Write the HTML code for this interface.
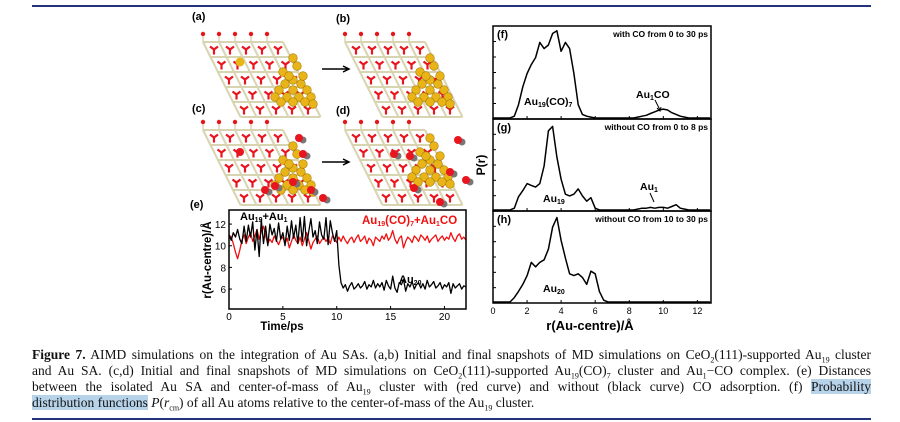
<!DOCTYPE html>
<html><head><meta charset="utf-8"><style>
body{margin:0;background:#fff;width:900px;height:422px;overflow:hidden;position:relative;font-family:"Liberation Sans",sans-serif}
.cap{position:absolute;left:32px;top:347px;width:839px;font-family:"Liberation Serif",serif;font-size:13.5px;line-height:16px;color:#111}
.cap div{text-align:justify;text-align-last:justify;white-space:nowrap;height:16px}
.cap div.last{text-align-last:left}
.cap sub{font-size:8px;line-height:0}
.hl{background:#b7d3ea}
</style></head><body>
<div style="position:absolute;left:32px;top:5px;width:839px;height:2px;background:#23327a"></div>
<div style="position:absolute;left:32px;top:418px;width:839px;height:2px;background:#23327a"></div>
<svg id="fig" width="900" height="345" style="position:absolute;left:0;top:0" font-family="Liberation Sans, sans-serif"></svg>
<div class="cap">
<div><b>Figure 7.</b> AIMD simulations on the integration of Au SAs. (a,b) Initial and final snapshots of MD simulations on CeO<sub>2</sub>(111)-supported Au<sub>19</sub> cluster</div>
<div>and Au SA. (c,d) Initial and final snapshots of MD simulations on CeO<sub>2</sub>(111)-supported Au<sub>19</sub>(CO)<sub>7</sub> cluster and Au<sub>1</sub>−CO complex. (e) Distances</div>
<div>between the isolated Au SA and center-of-mass of Au<sub>19</sub> cluster with (red curve) and without (black curve) CO adsorption. (f) <span class="hl">Probability</span></div>
<div class="last"><span class="hl">distribution functions</span> <i>P</i>(<i>r</i><sub>cm</sub>) of all Au atoms relative to the center-of-mass of the Au<sub>19</sub> cluster.</div>
</div>
<script>
// panel (e) data: time step 0.2 ps
const blackSeries=[11.0,10.5,11.2,10.8,11.5,10.6,10.2,11.8,10.4,11.9,
10.8,12.2,9.6,11.5,9.0,12.4,10.2,11.8,10.0,12.0,
11.0,11.6,10.4,12.1,10.6,11.2,10.0,11.8,10.5,12.3,
10.7,11.9,10.2,12.6,10.4,12.7,10.0,11.3,12.5,10.8,
11.4,10.2,12.2,11.0,10.6,12.6,10.1,12.3,11.2,10.4,
11.4,8.2,6.6,6.1,6.4,5.8,6.3,6.6,6.0,6.2,
6.5,6.1,6.3,6.7,6.0,6.4,6.2,6.8,6.1,6.5,
6.2,6.6,5.9,6.8,6.3,6.0,7.2,6.1,5.7,6.6,
6.4,6.9,5.8,6.5,6.2,6.7,6.0,6.4,6.6,6.1,
6.5,6.0,6.8,6.2,6.4,6.7,6.1,6.3,6.6,6.0,
6.4,6.2,6.6,5.6,6.5,6.1,6.3,6.5,6.0,6.3,6.2];
const redSeries=[11.0,10.8,10.2,9.4,8.8,9.6,10.5,11.0,10.2,10.8,
11.2,10.4,10.9,11.5,10.6,11.3,11.8,10.9,10.2,10.6,
10.3,10.9,10.5,10.1,10.6,10.8,10.2,10.7,9.8,10.4,
11.0,10.5,10.2,10.8,10.0,10.6,11.2,10.5,9.7,10.3,
10.6,10.9,10.2,10.5,10.8,10.4,10.7,10.2,10.9,10.6,
10.3,10.8,10.4,10.9,10.5,10.2,10.6,10.8,10.3,10.7,
11.0,10.4,10.6,10.9,10.2,10.7,10.5,10.0,10.8,10.6,
10.4,10.9,10.6,11.1,10.5,10.8,11.4,10.6,10.2,10.7,
10.9,9.8,10.4,10.8,10.6,10.3,10.9,10.7,10.4,11.0,
10.8,10.5,10.9,10.3,10.6,10.8,11.0,10.4,10.7,10.9,
10.5,10.8,10.6,11.2,10.7,10.4,10.9,11.1,10.6,10.8,10.5];
const eXTicks=[0,5,10,15,20];
const eYTicks=[6,8,10,12];
// panels f,g,h: r step 0.25 Å
const pdfF=[0,0,0,0,0,.02,.15,.35,.5,.6,.68,.85,.78,.82,.95,.98,.75,.85,.78,.5,.15,.04,.02,.01,0,0,0,0,0,0,0,0,0,0,.01,.02,.03,.05,.07,.09,.1,.09,.06,.04,.02,.01,0,0,0,0,0,0];
const pdfG=[0,0,0,0,0,.02,.15,.22,.3,.28,.26,.3,.5,.9,.95,.6,.35,.18,.16,.18,.24,.16,.1,.14,.02,0,0,0,0,0,0,0,0,0,.01,.02,.02,.03,.02,.03,.03,.02,.04,.06,.02,.01,0,0,0,0,0,0];
const pdfH=[0,0,0,0,0,.05,.12,.2,.3,.45,.4,.45,.48,.6,.85,.96,.7,.5,.32,.3,.32,.28,.2,.35,.32,.12,.02,0,0,0,0,0,0,0,0,0,0,0,0,0,0,0,0,0,0,0,0,0,0,0,0,0];
const rTicks=[0,2,4,6,8,10,12];

const S=document.getElementById('fig');const NS='http://www.w3.org/2000/svg';
function el(t,a,p){const e=document.createElementNS(NS,t);for(const k in a)e.setAttribute(k,a[k]);(p||S).appendChild(e);return e;}
function txt(x,y,s,a){const e=el('text',Object.assign({x:x,y:y,'font-size':11,'font-weight':'bold'},a||{}));e.innerHTML=s;return e;}

// ---- snapshots ----
function snapshot(ox,oy,name,cx,cy,co){
 const g=el('g',{});
 
 
 const w=16,h=15,sh=7.5;
 for(let r=0;r<=5;r++){el('line',{x1:ox+r*sh,y1:oy+r*h,x2:ox+r*sh+5*w,y2:oy+r*h,stroke:'#d9d4b0','stroke-width':2},g);}
 for(let c=0;c<=5;c++){el('line',{x1:ox+c*w,y1:oy,x2:ox+c*w+5*sh,y2:oy+5*h,stroke:'#d9d4b0','stroke-width':2},g);}
 for(let r=0;r<5;r++)for(let c=0;c<5;c++){const x=ox+r*sh+c*w+w/2+3,y=oy+r*h+h/2;
  el('path',{d:`M${x} ${y}L${x} ${y+5}M${x} ${y}L${x-4} ${y-3}M${x} ${y}L${x+4} ${y-3}`,stroke:'#e8141e','stroke-width':2.2},g);}
 for(let c=0;c<5;c++){el('line',{x1:ox+c*w,y1:oy,x2:ox+c*w,y2:oy-7,stroke:'#d9d4b0','stroke-width':1.5},g);el('circle',{cx:ox+c*w,cy:oy-8,r:2.2,fill:'#e8141e'},g);}
 const pts=[[0,0],[-8,4],[8,4],[-14,10],[0,10],[14,10],[-18,17],[-6,17],[6,17],[18,17],[-10,-8],[4,-14],[0,-22],[10,-4],[-4,-4],[-12,22],[12,22],[0,22],[20,24]];
 pts.forEach(p=>el('circle',{cx:cx+p[0],cy:cy+p[1],r:4.3,fill:'#e8b418',stroke:'#a87a00','stroke-width':0.6},g));
 (co||[]).forEach(p=>{el('circle',{cx:cx+p[0]+4,cy:cy+p[1]+2,r:3.5,fill:'#777'},g);el('circle',{cx:cx+p[0],cy:cy+p[1],r:4,fill:'#e8141e'},g);});
}
snapshot(203,42,'snapshot-a',293,80,null);
el('circle',{cx:240,cy:62,r:4.5,fill:'#e8b418'});
snapshot(345,42,'snapshot-b',430,80,null);
snapshot(203,130,'snapshot-c',293,168,[[6,-30],[10,-14],[-28,22],[-18,18],[0,14],[18,22],[30,30]]);
el('circle',{cx:240,cy:152,r:4,fill:'#e8141e'});
snapshot(345,130,'snapshot-d',430,160,[[-36,-6],[-20,-4],[28,-20],[20,12],[36,20],[-16,28],[10,42]]);
txt(192,20,'(a)');txt(336,22,'(b)');txt(192,112,'(c)');txt(336,114,'(d)');
function arrow(y,n){const a=el('path',{d:`M322 ${y}L348 ${y}M343 ${y-3}L349 ${y}L343 ${y+3}`,stroke:'#000','stroke-width':1.5,fill:'none'});}
arrow(69,'arrow-a-to-b');arrow(162,'arrow-c-to-d');

// ---- panel e ----
const eL=229,eR=466,eT=210,eB=309;
const ex=t=>eL+(t/22)*(eR-eL), ey=v=>eB-(v-4.16)/(13.3-4.16)*(eB-eT);
txt(190,208,'(e)');
eXTicks.forEach(t=>{el('line',{x1:ex(t),y1:eB,x2:ex(t),y2:eB-3,stroke:'#000'});txt(ex(t),eB+11,t,{'text-anchor':'middle','font-size':10,'font-weight':'normal'});});
eYTicks.forEach(v=>{el('line',{x1:eL,y1:ey(v),x2:eL+3,y2:ey(v),stroke:'#000'});txt(eL-3,ey(v)+4,v,{'text-anchor':'end','font-size':10,'font-weight':'normal'});});
function line(arr,fx,fy,col,name,sw){const d=arr.map((v,i)=>(i?'L':'M')+fx(i).toFixed(1)+' '+fy(v).toFixed(1)).join('');const p=el('path',{d:d,fill:'none',stroke:col,'stroke-width':sw||1.3,'stroke-linejoin':'round'});}
line(redSeries,i=>ex(i*0.2),ey,'#f01010','red-curve-with-co');
line(blackSeries,i=>ex(i*0.2),ey,'#000','black-curve-without-co');
el('rect',{x:eL,y:eT,width:eR-eL,height:eB-eT,fill:'none',stroke:'#000','stroke-width':1.5});
txt(240,220,'Au<tspan font-size="7" dy="2">19</tspan><tspan dy="-2">+Au</tspan><tspan font-size="7" dy="2">1</tspan>',{'font-size':11});
txt(362,224,'Au<tspan font-size="7" dy="2">19</tspan><tspan dy="-2">(CO)</tspan><tspan font-size="7" dy="2">7</tspan><tspan dy="-2">+Au</tspan><tspan font-size="7" dy="2">1</tspan><tspan dy="-2">CO</tspan>',{fill:'#f01010','font-size':11.5});
txt(399,283,'Au<tspan font-size="7" dy="2">20</tspan>',{'font-size':11});
txt(282,330,'Time/ps',{'text-anchor':'middle','font-size':11.5});
txt(0,0,'r(Au-centre)/Å',{transform:'translate(211,260) rotate(-90)','text-anchor':'middle','font-size':11.5});

// ---- panels f,g,h ----
const pL=493,pR=711,bounds=[26,119,211,303];
const rx=r=>pL+(r/12.8)*(pR-pL);
[['(f)','with CO from 0 to 30 ps',pdfF,'pdf-f'],['(g)','without CO from 0 to 8 ps',pdfG,'pdf-g'],['(h)','without CO from 10 to 30 ps',pdfH,'pdf-h']].forEach((p,k)=>{
 const T=bounds[k],B=bounds[k+1],fy=v=>B-1-v*(B-T-4);
 for(let j=1;j<6;j++)el('line',{x1:pL,y1:B-j*(B-T)/6,x2:pL+3,y2:B-j*(B-T)/6,stroke:'#000'});
 rTicks.forEach(r=>el('line',{x1:rx(r),y1:B,x2:rx(r),y2:B-3,stroke:'#000'}));
 line(p[2],i=>rx(i*0.25),fy,'#000',p[3],1.5);
 el('rect',{x:pL,y:T,width:pR-pL,height:B-T,fill:'none',stroke:'#000','stroke-width':1.5});
 txt(pL+4,T+12,p[0],{'font-size':11});
 txt(pR-3,T+11,p[1],{'text-anchor':'end','font-size':8.5});
});
rTicks.forEach(r=>txt(rx(r),314,r,{'text-anchor':'middle','font-size':9,'font-weight':'normal'}));
txt(590,330,'r(Au-centre)/Å',{'text-anchor':'middle','font-size':13});
txt(0,0,'P(r)',{transform:'translate(485,165) rotate(-90)','text-anchor':'middle','font-size':12});
txt(524,105,'Au<tspan font-size="7" dy="2">19</tspan><tspan dy="-2">(CO)</tspan><tspan font-size="7" dy="2">7</tspan>',{'font-size':10.5});
txt(636,98,'Au<tspan font-size="7" dy="2">1</tspan><tspan dy="-2">CO</tspan>',{'font-size':10.5});
el('path',{d:'M655 100L660 110M657 108L660 111L661 107',stroke:'#000',fill:'none'});
txt(543,202,'Au<tspan font-size="7" dy="2">19</tspan>',{'font-size':10.5});
txt(640,190,'Au<tspan font-size="7" dy="2">1</tspan>',{'font-size':10.5});
el('path',{d:'M650 193L654 202',stroke:'#000',fill:'none'});
txt(543,292,'Au<tspan font-size="7" dy="2">20</tspan>',{'font-size':10.5});
</script>
</body></html>
